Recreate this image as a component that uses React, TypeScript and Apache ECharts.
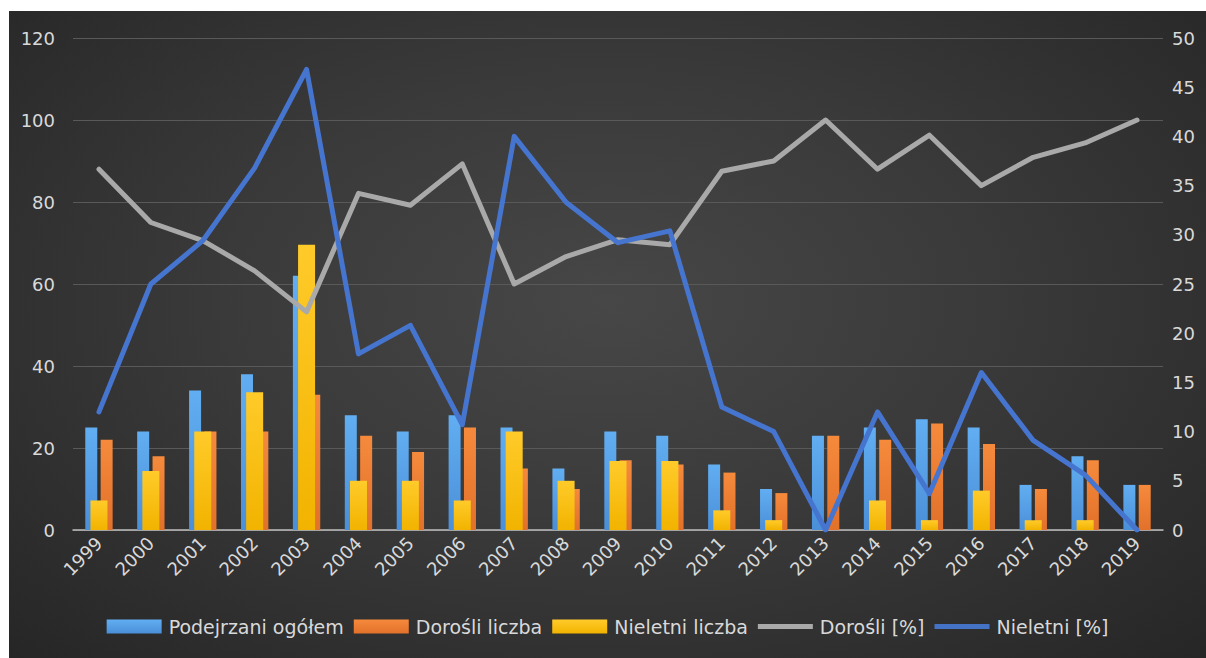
import React, { useEffect, useRef } from "react";
import * as echarts from "echarts";

const years = ["1999","2000","2001","2002","2003","2004","2005","2006","2007","2008","2009","2010","2011","2012","2013","2014","2015","2016","2017","2018","2019"];
const podejrzaniOgolem = [25, 24, 34, 38, 62, 28, 24, 28, 25, 15, 24, 23, 16, 10, 23, 25, 27, 25, 11, 18, 11];
const doresliLiczba = [22, 18, 24, 24, 33, 23, 19, 25, 15, 10, 17, 16, 14, 9, 23, 22, 26, 21, 10, 17, 11];
const nieletniLiczba = [3, 6, 10, 14, 29, 5, 5, 3, 10, 5, 7, 7, 2, 1, 0, 3, 1, 4, 1, 1, 0];
const doresliProc = [88, 75, 70.6, 63.2, 53.2, 82.1, 79.2, 89.3, 60, 66.7, 70.8, 69.6, 87.5, 90, 100, 88, 96.3, 84, 90.9, 94.4, 100];
const nieletniProc = [12, 25, 29.4, 36.8, 46.8, 17.9, 20.8, 10.7, 40, 33.3, 29.2, 30.4, 12.5, 10, 0, 12, 3.7, 16, 9.1, 5.6, 0];
const leftTicks = { min: 0, max: 120, interval: 20 };
const rightTicks = { min: 0, max: 50, interval: 5 };

const FONT = "'DejaVu Sans', 'Noto Sans', sans-serif";
const TXT = "#d9d9d9";

function vgrad(a: string, b: string) {
  return new echarts.graphic.LinearGradient(0, 0, 0, 1, [
    { offset: 0, color: a },
    { offset: 1, color: b },
  ]);
}

export default function App() {
  const ref = useRef<HTMLDivElement>(null);
  useEffect(() => {
    if (!ref.current) return;
    const chart = echarts.init(ref.current, undefined, { renderer: "svg" });
    const linePath = "path://M0,0 L55,0 L55,5 L0,5 Z";
    chart.setOption({
      animation: false,
      backgroundColor: "transparent",
      grid: { left: 64, right: 43, top: 27, bottom: 128, containLabel: false },
      legend: {
        bottom: 17,
        left: "center",
        itemWidth: 55,
        itemHeight: 14,
        itemGap: 10,
        textStyle: { color: TXT, fontSize: 19, fontFamily: FONT, padding: [0, 0, 0, 2] },
        data: [
          { name: "Podejrzani ogółem", icon: "rect" },
          { name: "Dorośli liczba", icon: "rect" },
          { name: "Nieletni liczba", icon: "rect" },
          { name: "Dorośli [%]", icon: linePath },
          { name: "Nieletni [%]", icon: linePath },
        ],
      },
      xAxis: [
        {
          type: "category",
          data: years,
          axisLine: { show: true, lineStyle: { color: "#bfbfbf", width: 1.5 } },
          axisTick: { show: false },
          axisLabel: { color: TXT, fontSize: 18, fontFamily: FONT, rotate: 45, margin: 10, interval: 0 },
        },
        {
          type: "category",
          data: years,
          show: false,
        },
      ],
      yAxis: [
        {
          type: "value",
          ...leftTicks,
          axisLine: { show: false },
          axisTick: { show: false },
          axisLabel: { color: TXT, fontSize: 18, fontFamily: FONT, margin: 18 },
          splitLine: { lineStyle: { color: "#595959", width: 1 } },
        },
        {
          type: "value",
          ...rightTicks,
          axisLine: { show: false },
          axisTick: { show: false },
          axisLabel: { color: TXT, fontSize: 18, fontFamily: FONT, margin: 9 },
          splitLine: { show: false },
        },
      ],
      series: [
        {
          name: "Podejrzani ogółem",
          type: "bar",
          xAxisIndex: 0,
          yAxisIndex: 0,
          data: podejrzaniOgolem,
          barWidth: 12,
          barGap: "28%",
          color: "#5b9bd5",
          itemStyle: { color: vgrad("#62aef2", "#4a8fd8") },
          z: 2,
        },
        {
          name: "Dorośli liczba",
          type: "bar",
          xAxisIndex: 0,
          yAxisIndex: 0,
          data: doresliLiczba,
          barWidth: 12,
          color: "#ed7d31",
          itemStyle: { color: vgrad("#f58a3c", "#e2712a") },
          z: 2,
        },
        {
          name: "Nieletni liczba",
          type: "bar",
          xAxisIndex: 1,
          yAxisIndex: 1,
          data: nieletniLiczba,
          barWidth: 17,
          color: "#ffc000",
          itemStyle: { color: vgrad("#ffcb2a", "#f2b300") },
          z: 3,
        },
        {
          name: "Dorośli [%]",
          type: "line",
          xAxisIndex: 0,
          yAxisIndex: 0,
          data: doresliProc,
          symbol: "none",
          color: "#a9a9a9",
          lineStyle: { color: "#a9a9a9", width: 5, cap: "round", join: "round" },
          z: 4,
        },
        {
          name: "Nieletni [%]",
          type: "line",
          xAxisIndex: 0,
          yAxisIndex: 1,
          data: nieletniProc,
          symbol: "none",
          color: "#4472c4",
          lineStyle: { color: "#4675d0", width: 5, cap: "round", join: "round" },
          z: 5,
        },
      ],
    });
    return () => chart.dispose();
  }, []);
  return (
    <div
      ref={ref}
      style={{
        position: "absolute",
        left: 9,
        top: 11,
        width: 1197,
        height: 647,
        background: "radial-gradient(ellipse at 50% 45%, #474747 0%, #3a3a3a 45%, #262626 100%)",
      }}
    />
  );
}
